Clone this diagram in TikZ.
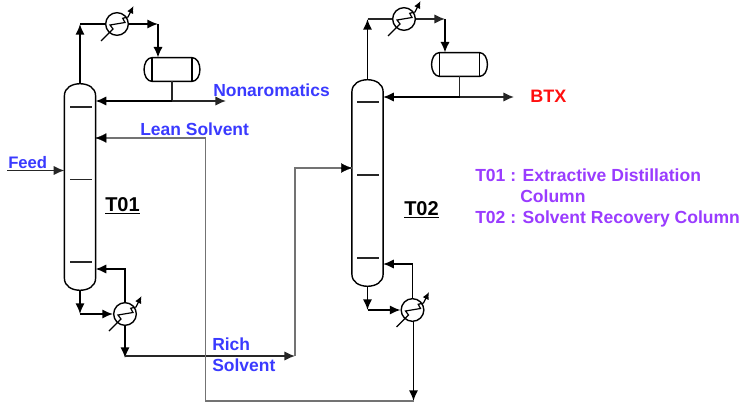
\documentclass[tikz,border=0pt]{standalone}
\usepackage{fontspec}
\setmainfont{Liberation Sans}
\usetikzlibrary{arrows.meta,calc}
\definecolor{lblblue}{HTML}{3A3AFF}
\definecolor{lblpurple}{HTML}{9A3CFF}
\definecolor{lblred}{HTML}{FF1010}
\tikzset{
  x=0.75pt,y=-0.75pt,
  pipe/.style={line width=1.3pt,black,line join=miter},
  thinpipe/.style={line width=1pt,black!85},
  greypipe/.style={line width=1.3pt,black!55},
  flow/.style={-{Latex[length=8pt,width=7pt]}},
  vessel/.style={line width=1.05pt,black},
  tray/.style={line width=0.9pt,black!85},
  exch/.style={circle,draw,line width=1.05pt,minimum size=17pt,inner sep=0pt,fill=white},
  tubeline/.style={line width=0.9pt,-{Latex[length=5.5pt,width=5pt]}},
  bluelbl/.style={font=\fontsize{13.1}{15}\selectfont\bfseries,text=lblblue,inner sep=0pt,anchor=west},
  purplelbl/.style={font=\fontsize{13.15}{15}\selectfont\bfseries,text=lblpurple,inner sep=0pt,anchor=west},
  collbl/.style={font=\fontsize{15}{17}\selectfont\bfseries,inner sep=0pt,anchor=west},
  hidden/.style={inner sep=0pt,minimum width=23pt,minimum height=154.5pt},
  drumbox/.style={inner sep=0pt,minimum width=41.5pt,minimum height=17.5pt},
}
\newcommand{\columnbody}[1]{%
  \draw[vessel] ($(#1.south west)+(0,-12)$) -- ($(#1.north west)+(0,12)$)
    .. controls +(0,-8) and +(-8,0) .. (#1.north)
    .. controls +(8,0) and +(0,-8) .. ($(#1.north east)+(0,12)$)
    -- ($(#1.south east)+(0,-12)$)
    .. controls +(0,8) and +(8,0) .. (#1.south)
    .. controls +(-8,0) and +(0,8) .. ($(#1.south west)+(0,-12)$) -- cycle;}
\newcommand{\drumbody}[1]{%
  \draw[vessel] ($(#1.north west)+(8,0)$) -- ($(#1.north east)+(-8,0)$)
    .. controls +(5,0) and +(0,-6) .. (#1.east)
    .. controls +(0,6) and +(5,0) .. ($(#1.south east)+(-8,0)$)
    -- ($(#1.south west)+(8,0)$)
    .. controls +(-5,0) and +(0,6) .. (#1.west)
    .. controls +(0,-6) and +(-5,0) .. ($(#1.north west)+(8,0)$) -- cycle;
  \draw[vessel] ($(#1.north west)+(8,0)$) -- ($(#1.south west)+(8,0)$);
  \draw[vessel] ($(#1.north east)+(-8,0)$) -- ($(#1.south east)+(-8,0)$);}
\newcommand{\tubes}[1]{%
  \draw[tubeline] ($(#1)+(-16,17)$) -- ($(#1)+(-4,5)$) -- ($(#1)+(-7,1)$) -- ($(#1)+(8,-1.5)$)
    -- ($(#1)+(5.7,-5.7)$) -- ($(#1)+(11,-7)$) -- ($(#1)+(16.5,-18)$);}
\begin{document}
\begin{tikzpicture}
\useasboundingbox (0,0) rectangle (742,403);
\fill[white] (0,0) rectangle (742,403);

% vessels
\node[hidden] (t1) at (80,187) {};
\node[hidden] (t2) at (367.5,183) {};
\node[drumbox] (d1) at (172,69.5) {};
\node[drumbox] (d2) at (459.5,64.5) {};
\columnbody{t1}
\columnbody{t2}
\drumbody{d1}
\drumbody{d2}
\draw[tray] (70,107) -- (92,107) (70,179.5) -- (92,179.5) (70,262) -- (92,262);
\draw[tray] (357,102) -- (379,102) (357,175) -- (379,175) (357,258) -- (379,258);

% exchangers
\node[exch] (c1) at (117,24) {};
\node[exch] (r1) at (125,314) {};
\node[exch] (c2) at (404,19) {};
\node[exch] (r2) at (412.5,310) {};

% routing points
\coordinate (a1) at (t1.north |- c1);
\coordinate (a2) at (158,24);
\coordinate (a3) at (172,101);
\coordinate (a4) at (226,101);
\coordinate (a5) at (t1.east |- a3);
\coordinate (b1) at (t1.south |- r1);
\coordinate (b2) at (125,269);
\coordinate (b3) at (t1.east |- b2);
\coordinate (b4) at (125,358);
\coordinate (b5) at (125,356);
\coordinate (b6) at (295,356);
\coordinate (b7) at (295,168);
\coordinate (b8) at (t2.west |- b7);
\coordinate (f0) at (7,170.5);
\coordinate (f1) at (t1.west |- f0);
\coordinate (e1) at (t2.north |- c2);
\coordinate (e2) at (445,19);
\coordinate (e3) at (459.5,97);
\coordinate (e4) at (514,97);
\coordinate (e5) at (t2.east |- e3);
\coordinate (g1) at (t2.south |- r2);
\coordinate (g2) at (412.5,264);
\coordinate (g3) at (t2.east |- g2);
\coordinate (s0) at (413.5,401);
\coordinate (s1) at (205.5,401);
\coordinate (s2) at (205.5,138);
\coordinate (s3) at (t1.east |- s2);

% T01 connectors
\draw[pipe,flow] (t1.north) -- (a1);
\draw[pipe] (a1) -- (c1);
\draw[pipe,flow] (c1) -- (a2);
\draw[pipe,flow] (a2) -- (a2 |- d1.north);
\draw[thinpipe] (a3 |- d1.south) -- (a3);
\draw[pipe,flow] (a3) -- (a5);
\draw[thinpipe,flow] (a3) -- (a4);
\draw[thinpipe,flow] (f0) -- (f1);
\draw[pipe,flow] (t1.south) -- (b1);
\draw[pipe,flow] (b1) -- (r1);
\draw[pipe,flow] (r1) |- (b3);
\draw[pipe,flow] (r1) -- (b4);
\draw[thinpipe,flow] (b5) -- (b6);

% T02 connectors
\draw[greypipe] (b6) -- (b7) -- (b8);
\draw[black,flow,line width=0.1pt] ($(b8)+(-8,0)$) -- (b8);
\draw[pipe,flow] (t2.north) -- (e1);
\draw[thinpipe] (e1) -- (c2);
\draw[thinpipe,flow] (c2) -- (e2);
\draw[pipe,flow] (e2) -- (e2 |- d2.north);
\draw[thinpipe] (e3 |- d2.south) -- (e3);
\draw[pipe,flow] (e3) -- (e5);
\draw[thinpipe,flow] (e3) -- (e4);
\draw[pipe,flow] (t2.south) -- (g1);
\draw[pipe,flow] (g1) -- (r2);
\draw[pipe,flow] (r2) |- (g3);
\draw[pipe,flow] (r2.south -| s0) -- (s0);

% solvent loop
\draw[greypipe] (s0) -- (s1) -- (s2) -- (s3);
\draw[black,flow,line width=0.1pt] ($(s3)+(8,0)$) -- (s3);

% exchanger internals
\tubes{c1}
\tubes{r1}
\tubes{c2}
\tubes{r2}

% labels
\node[bluelbl] (lnon) at (213,90) {Nonaromatics};
\node[bluelbl] (llean) at (140,129.5) {Lean Solvent};
\node[bluelbl,font=\fontsize{12.5}{15}\selectfont\bfseries] (lfeed) at (8,163) {Feed};
\node[bluelbl] (lrich) at (212,344) {Rich};
\node[bluelbl] (lsolv) at (212,365) {Solvent};
\node[font=\fontsize{13.5}{15}\selectfont\bfseries,text=lblred,inner sep=0pt,anchor=west] (lbtx) at (530,96) {BTX};
\node[collbl] (lt1) at (105,206) {\underline{T01}};
\node[collbl] (lt2) at (404,210) {\underline{T02}};
\node[purplelbl] (p1) at (475,175) {T01 : Extractive Distillation};
\node[purplelbl] (p2) at (520,196) {Column};
\node[purplelbl] (p3) at (475,219) {T02 : Solvent Recovery Column};
\end{tikzpicture}
\end{document}
